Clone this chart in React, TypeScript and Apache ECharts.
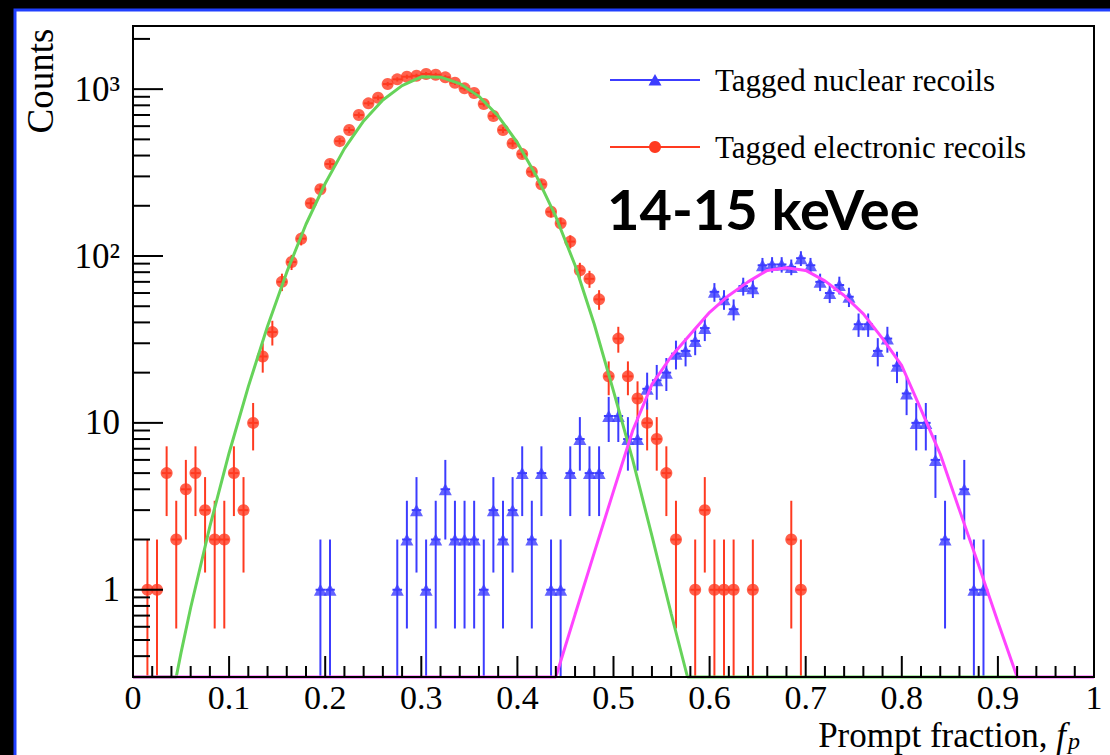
import React, { useEffect, useRef } from "react";
import * as echarts from "echarts";

// ---- axis ranges / ticks ----
const Y_MIN = 0.3;
const Y_MAX = 2390;
const X_MIN = 0;
const X_MAX = 1;
const X_MAJOR = 0.1;
const X_MINOR = 0.02;
const BIN_HALF_WIDTH = 0.005;
const yTickLabels: Record<string, string> = { "0": "1", "1": "10", "2": "10²", "3": "10³" };

// ---- histograms: [bin centre, counts] (bins with zero counts omitted) ----
const electronicRecoils: [number, number][] = [
  [0.015, 1], [0.025, 1], [0.035, 5], [0.045, 2], [0.055, 4], [0.065, 5], [0.075, 3],
  [0.085, 2], [0.095, 2], [0.105, 5], [0.115, 3], [0.125, 10], [0.135, 25], [0.145, 35],
  [0.155, 70], [0.165, 92], [0.175, 127], [0.185, 207], [0.195, 251], [0.205, 356],
  [0.215, 488], [0.225, 569], [0.235, 700], [0.245, 822], [0.255, 888], [0.265, 1073],
  [0.275, 1145], [0.285, 1187], [0.295, 1203], [0.305, 1232], [0.315, 1220], [0.325, 1177],
  [0.335, 1092], [0.345, 1011], [0.355, 948], [0.365, 815], [0.375, 690], [0.385, 569],
  [0.395, 473], [0.405, 408], [0.415, 320], [0.425, 269], [0.435, 184], [0.445, 157],
  [0.455, 122], [0.465, 82], [0.475, 73], [0.485, 55], [0.495, 19], [0.505, 32],
  [0.515, 19], [0.525, 14], [0.535, 10], [0.545, 8], [0.555, 5], [0.565, 2],
  [0.585, 1], [0.595, 3], [0.605, 1], [0.615, 1], [0.625, 1], [0.645, 1],
  [0.685, 2], [0.695, 1],
];

const nuclearRecoils: [number, number][] = [
  [0.195, 1], [0.205, 1], [0.275, 1], [0.285, 2], [0.295, 3], [0.305, 1], [0.315, 2],
  [0.325, 4], [0.335, 2], [0.345, 2], [0.355, 2], [0.365, 1], [0.375, 3], [0.385, 2],
  [0.395, 3], [0.405, 5], [0.415, 2], [0.425, 5], [0.435, 1], [0.445, 1], [0.455, 5],
  [0.465, 8], [0.475, 5], [0.485, 5], [0.495, 11], [0.505, 11], [0.515, 8], [0.525, 8],
  [0.535, 16], [0.545, 18], [0.555, 20], [0.565, 26], [0.575, 27], [0.585, 31],
  [0.595, 37], [0.605, 61], [0.615, 55], [0.625, 48], [0.635, 66], [0.645, 64],
  [0.655, 88], [0.665, 89], [0.675, 89], [0.685, 86], [0.695, 97], [0.705, 88],
  [0.715, 70], [0.725, 60], [0.735, 67], [0.745, 57], [0.755, 39], [0.765, 39],
  [0.775, 27], [0.785, 32], [0.795, 22], [0.805, 15], [0.815, 10], [0.825, 10],
  [0.835, 6], [0.845, 2], [0.865, 4], [0.875, 1], [0.885, 1],
];

// ---- fitted curves: [x, value] ----
const electronicFit: [number, number][] = [
  [0, 0.3], [0.045, 0.3], [0.05, 0.42], [0.06, 0.78], [0.08, 2.4], [0.1, 6.6], [0.12, 16.5],
  [0.14, 38], [0.16, 80], [0.18, 155], [0.2, 272], [0.22, 440], [0.24, 645], [0.26, 860],
  [0.28, 1050], [0.3, 1185], [0.32, 1180], [0.34, 1080], [0.36, 905], [0.38, 690],
  [0.4, 478], [0.42, 300], [0.44, 172], [0.46, 88], [0.48, 39], [0.5, 15.5], [0.52, 6],
  [0.54, 2.1], [0.56, 0.72], [0.577, 0.3], [0.92, 0.3],
];

const nuclearFit: [number, number][] = [
  [0, 0.3], [0.44, 0.3], [0.46, 0.71], [0.48, 1.67], [0.5, 3.9], [0.52, 9], [0.54, 17],
  [0.56, 25], [0.58, 34], [0.6, 46], [0.62, 58], [0.64, 70], [0.66, 82], [0.68, 85],
  [0.7, 82], [0.72, 71], [0.74, 58], [0.76, 45], [0.78, 32], [0.8, 22], [0.82, 12],
  [0.84, 6.5], [0.86, 3.0], [0.88, 1.4], [0.9, 0.64], [0.92, 0.3], [1, 0.3],
];

const legendNames = ["Tagged nuclear recoils", "Tagged electronic recoils"];
const energyLabel = "14-15 keVee";

const RED = "#ff3a20";
const BLUE = "#3c3cff";
const GREEN = "#66d35a";
const MAGENTA = "#ff44ff";
const SERIF = "'Liberation Serif', 'Times New Roman', serif";

function errorBars(points: [number, number][], color: string) {
  return {
    type: "custom",
    coordinateSystem: "cartesian2d",
    silent: true,
    z: 2,
    clip: true,
    data: points.map(([x, n]) => [x, n, Math.max(n - Math.sqrt(n), Y_MIN), n + Math.sqrt(n)]),
    encode: { x: 0, y: 1 },
    renderItem: (_params: any, api: any) => {
      const x = api.value(0);
      const n = api.value(1);
      const lo = api.coord([x, api.value(2)]);
      const hi = api.coord([x, api.value(3)]);
      const l = api.coord([x - BIN_HALF_WIDTH, n]);
      const r = api.coord([x + BIN_HALF_WIDTH, n]);
      return {
        type: "group",
        children: [
          { type: "line", shape: { x1: lo[0], y1: lo[1], x2: hi[0], y2: hi[1] }, style: { stroke: color, lineWidth: 2 } },
          { type: "line", shape: { x1: l[0], y1: l[1], x2: r[0], y2: r[1] }, style: { stroke: color, lineWidth: 2 } },
        ],
      };
    },
  };
}

function buildTicks() {
  const yTicks: [number, number][] = [];
  for (let d = -1; d <= 3; d++) {
    for (let k = 1; k <= 9; k++) {
      const v = k * Math.pow(10, d);
      if (v >= Y_MIN - 1e-9 && v <= Y_MAX) yTicks.push([v, k === 1 ? 30 : 17]);
    }
  }
  const xTicks: [number, number][] = [];
  const nMinor = Math.round((X_MAX - X_MIN) / X_MINOR);
  const perMajor = Math.round(X_MAJOR / X_MINOR);
  for (let i = 0; i <= nMinor; i++) {
    xTicks.push([X_MIN + i * X_MINOR, i % perMajor === 0 ? 21 : 11]);
  }
  return { yTicks, xTicks };
}

export default function App() {
  const ref = useRef<HTMLDivElement>(null);

  useEffect(() => {
    if (!ref.current) return;
    const chart = echarts.init(ref.current, undefined, { renderer: "svg" });
    const { yTicks, xTicks } = buildTicks();

    const option: any = {
      animation: false,
      backgroundColor: "#000",
      grid: {
        left: 133,
        right: 16,
        top: 26,
        bottom: 78,
        show: true,
        backgroundColor: "#fff",
        borderColor: "#000",
        borderWidth: 2,
        containLabel: false,
      },
      xAxis: {
        type: "value",
        min: X_MIN,
        max: X_MAX,
        interval: X_MAJOR,
        z: 5,
        axisLine: { show: true, lineStyle: { color: "#000", width: 2 } },
        axisTick: { show: false },
        splitLine: { show: false },
        axisLabel: {
          color: "#000",
          fontFamily: SERIF,
          fontSize: 34,
          lineHeight: 28,
          margin: 6,
          formatter: (v: number) => String(Math.round(v * 10) / 10),
        },
      },
      yAxis: {
        type: "log",
        logBase: 10,
        min: Y_MIN,
        max: Y_MAX,
        z: 5,
        axisLine: { show: true, lineStyle: { color: "#000", width: 2 } },
        axisTick: { show: false },
        splitLine: { show: false },
        minorTick: { show: false },
        axisLabel: {
          color: "#000",
          fontFamily: SERIF,
          fontSize: 35,
          margin: 13,
          showMinLabel: true,
          showMaxLabel: true,
          formatter: (v: number) => {
            const e = Math.log10(v);
            const r = Math.round(e);
            if (Math.abs(e - r) > 1e-6) return "";
            return yTickLabels[String(r)] ?? "";
          },
        },
      },
      series: [
        {
          type: "custom",
          name: "yticks",
          coordinateSystem: "cartesian2d",
          silent: true,
          z: 6,
          data: yTicks.map(([v, len]) => [X_MIN, v, len]),
          encode: { x: 0, y: 1 },
          renderItem: (_p: any, api: any) => {
            const p = api.coord([api.value(0), api.value(1)]);
            return { type: "line", shape: { x1: p[0], y1: p[1], x2: p[0] + api.value(2), y2: p[1] }, style: { stroke: "#000", lineWidth: 2 } };
          },
        },
        {
          type: "custom",
          name: "xticks",
          coordinateSystem: "cartesian2d",
          silent: true,
          z: 6,
          data: xTicks.map(([v, len]) => [v, Y_MIN, len]),
          encode: { x: 0, y: 1 },
          renderItem: (_p: any, api: any) => {
            const p = api.coord([api.value(0), api.value(1)]);
            return { type: "line", shape: { x1: p[0], y1: p[1], x2: p[0], y2: p[1] - api.value(2) }, style: { stroke: "#000", lineWidth: 2 } };
          },
        },
        errorBars(electronicRecoils, RED),
        errorBars(nuclearRecoils, BLUE),
        {
          type: "scatter",
          name: legendNames[1],
          data: electronicRecoils,
          symbol: "circle",
          symbolSize: 12,
          itemStyle: { color: RED },
          silent: true,
          z: 3,
        },
        {
          type: "scatter",
          name: legendNames[0],
          data: nuclearRecoils,
          symbol: "triangle",
          symbolSize: [13, 12],
          itemStyle: { color: BLUE },
          silent: true,
          z: 3,
        },
        {
          type: "line",
          name: "electronic fit",
          data: electronicFit,
          showSymbol: false,
          clip: false,
          lineStyle: { color: GREEN, width: 3 },
          silent: true,
          z: 4,
        },
        {
          type: "line",
          name: "nuclear fit",
          data: nuclearFit,
          showSymbol: false,
          clip: false,
          lineStyle: { color: MAGENTA, width: 3 },
          silent: true,
          z: 4,
        },
      ],
      graphic: [
        {
          type: "rect",
          z: -100,
          silent: true,
          shape: { x: 15, y: 10, width: 1200, height: 900 },
          style: { fill: "#fff", stroke: "#2040ff", lineWidth: 3 },
        },
        {
          type: "text",
          z: 10,
          x: 40,
          y: 81,
          rotation: Math.PI / 2,
          style: { text: "Counts", fontFamily: SERIF, fontSize: 37, fill: "#000", textAlign: "center", textVerticalAlign: "middle" },
        },
        {
          type: "text",
          z: 10,
          x: 1066,
          y: 735.5,
          style: {
            text: "{n|Prompt fraction, }{f|f}",
            textAlign: "right",
            textVerticalAlign: "middle",
            rich: {
              n: { fontFamily: SERIF, fontSize: 35, lineHeight: 32, fill: "#000" },
              f: { fontFamily: SERIF, fontSize: 35, lineHeight: 32, fontStyle: "italic", fill: "#000" },
            },
          },
        },
        {
          type: "text",
          z: 10,
          x: 1068,
          y: 741,
          style: { text: "p", fontFamily: SERIF, fontSize: 24, lineHeight: 18, fontStyle: "italic", fill: "#000", textAlign: "left", textVerticalAlign: "middle" },
        },
        // legend
        { type: "line", z: 10, shape: { x1: 610, y1: 80, x2: 700, y2: 80 }, style: { stroke: BLUE, lineWidth: 2 } },
        { type: "polygon", z: 10, shape: { points: [[655, 74], [648.5, 85.5], [661.5, 85.5]] }, style: { fill: BLUE } },
        {
          type: "text", z: 10, x: 715, y: 80,
          style: { text: legendNames[0], fontFamily: SERIF, fontSize: 31, fill: "#000", textAlign: "left", textVerticalAlign: "middle" },
        },
        { type: "line", z: 10, shape: { x1: 610, y1: 147, x2: 700, y2: 147 }, style: { stroke: RED, lineWidth: 2 } },
        { type: "circle", z: 10, shape: { cx: 655, cy: 147, r: 6 }, style: { fill: RED } },
        {
          type: "text", z: 10, x: 715, y: 147,
          style: { text: legendNames[1], fontFamily: SERIF, fontSize: 31, fill: "#000", textAlign: "left", textVerticalAlign: "middle" },
        },
        {
          type: "text", z: 10, x: 607, y: 208,
          style: { text: energyLabel, fontFamily: "Lato, 'Open Sans', sans-serif", fontWeight: "bold", fontSize: 56, fill: "#000", textAlign: "left", textVerticalAlign: "middle" },
        },
      ],
    };

    chart.setOption(option);
    return () => chart.dispose();
  }, []);

  return (
    <div
      ref={ref}
      style={{ position: "fixed", left: 0, top: 0, width: 1110, height: 755 }}
    />
  );
}
